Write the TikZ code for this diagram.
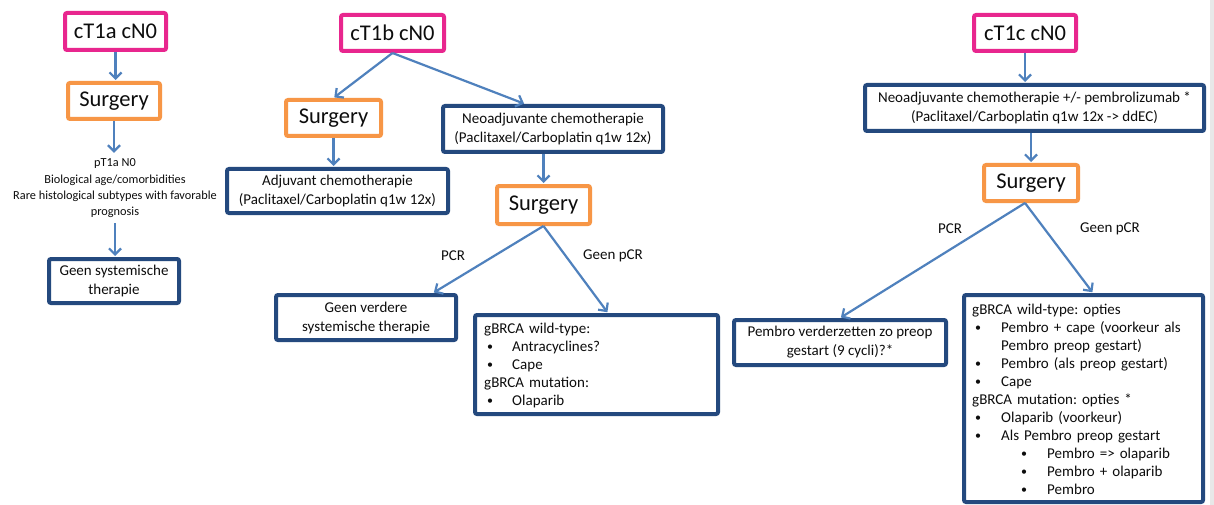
\documentclass[tikz,border=0pt]{standalone}
\usepackage{fontspec}
\setmainfont{Carlito}
\usetikzlibrary{arrows.meta,calc}
\definecolor{pinkc}{HTML}{E8268E}
\definecolor{orangec}{HTML}{F79646}
\definecolor{navyc}{HTML}{24497E}
\definecolor{arrowc}{HTML}{4F81BD}
\definecolor{txt}{HTML}{0D0D0D}
\newcommand\smbul{\raisebox{0.6pt}{\fontsize{12}{12}\selectfont\textbullet}}
\newcommand\bulA{\makebox[28pt][l]{\hspace{3pt}\smbul}}
\newcommand\bulB{\makebox[29pt][l]{\hspace{3pt}\smbul}}
\newcommand\bulC{\makebox[75pt][l]{\hspace{49pt}\smbul}}
\frenchspacing
\begin{document}
\begin{tikzpicture}[x=1pt,y=-1pt,
 box/.style={draw,line width=4pt,rounded corners=2pt,fill=white,inner sep=0pt,align=center,text=txt},
 stagebox/.style={box,draw=pinkc,font=\fontsize{22.5}{26}\selectfont},
 surgbox/.style={box,draw=orangec,font=\fontsize{22.5}{26}\selectfont},
 treatbox/.style={box,draw=navyc,font=\fontsize{15}{19}\selectfont},
 listtext/.style={inner sep=0pt,align=left,anchor=north west,text=txt,text width=230pt,font=\fontsize{15}{18}\selectfont\frenchspacing},
 note/.style={inner xsep=0pt,inner ysep=5pt,align=center,text=txt,font=\fontsize{12.3}{16.3}\selectfont},
 lbl/.style={text=txt,font=\fontsize{15}{18}\selectfont,inner sep=0pt},
 flow/.style={draw=arrowc,line width=2.2pt,-{Straight Barb[length=6pt,width=12pt]},shorten >=1pt}
]
\useasboundingbox (0,0) rectangle (1214,505);
\fill[white] (0,0) rectangle (1214,505);
\fill[gray!18] (1209.5,0) rectangle (1214,505);

% column 1
\node[stagebox,minimum width=101pt,minimum height=37pt] (p1) at (115.5,31.5) {cT1a cN0};
\node[surgbox,minimum width=92pt,minimum height=36pt] (s1) at (114,101) {Surgery};
\node[note] (t1) at (115,188.5) {pT1a N0\\Biological age/comorbidities\\Rare histological subtypes with favorable\\prognosis};
\node[treatbox,minimum width=130pt,minimum height=44pt] (g1) at (114,281) {Geen systemische\\therapie};

% column 2
\node[stagebox,minimum width=103pt,minimum height=36pt] (p2) at (392.5,33) {cT1b cN0};
\node[surgbox,minimum width=95pt,minimum height=36pt] (s2) at (333.5,118) {Surgery};
\node[treatbox,minimum width=221pt,minimum height=44pt] (a2) at (337.5,191) {Adjuvant chemotherapie\\(Paclitaxel/Carboplatin q1w 12x)};
\node[treatbox,minimum width=220pt,minimum height=46pt] (n2) at (553,129) {Neoadjuvante chemotherapie\\(Paclitaxel/Carboplatin q1w 12x)};
\node[surgbox,minimum width=93pt,minimum height=38pt] (s3) at (543.5,205) {Surgery};
\node[treatbox,minimum width=180pt,minimum height=45pt] (v2) at (366,317.5) {Geen verdere\\systemische therapie};
\node[treatbox,minimum width=243pt,minimum height=99pt] (b2) at (596.5,364.5) {};
\node[listtext] (b2t) at (484,320) {\rule{0pt}{13pt}gBRCA wild-type:\\
\bulA Antracyclines?\\
\bulA Cape\\
gBRCA mutation:\\
\bulA Olaparib};

% column 3
\node[stagebox,minimum width=102pt,minimum height=36pt] (p3) at (1025,33) {cT1c cN0};
\node[treatbox,minimum width=339pt,minimum height=46pt] (n3) at (1034.5,108) {Neoadjuvante chemotherapie +/- pembrolizumab *\\(Paclitaxel/Carboplatin q1w 12x -> ddEC)};
\node[surgbox,minimum width=94pt,minimum height=36pt] (s4) at (1031,183) {Surgery};
\node[treatbox,minimum width=212pt,minimum height=45pt] (pe) at (840,342.5) {Pembro verderzetten zo preop\\gestart (9 cycli)?*};
\node[treatbox,minimum width=239pt,minimum height=207pt] (b3) at (1083.5,398.5) {};
\node[listtext] (b3t) at (972,301) {\rule{0pt}{13pt}gBRCA wild-type: opties\\
\bulB Pembro + cape (voorkeur als\\
\makebox[29pt]{}Pembro preop gestart)\\
\bulB Pembro (als preop gestart)\\
\bulB Cape\\
gBRCA mutation: opties *\\
\bulB Olaparib (voorkeur)\\
\bulB Als Pembro preop gestart\\
\bulC Pembro => olaparib\\
\bulC Pembro + olaparib\\
\bulC Pembro};

% connectors column 1
\draw[flow] (p1.south) -- (p1.south |- s1.north);
\draw[flow] (s1.south) -- (s1.south |- t1.north);
\draw[flow] (t1.south) -- (t1.south |- g1.north);

% connectors column 2
\coordinate (n2in) at ([xshift=-28pt]n2.north);
\draw[flow] (p2.south) -- (s2.north);
\draw[flow] (p2.south) -- (n2in);
\draw[flow] (s2.south) -- (s2.south |- a2.north);
\draw[flow] (s3.north |- n2.south) -- (s3.north);
\coordinate (v2in) at ([xshift=67pt]v2.north);
\coordinate (b2in) at ([xshift=11.5pt]b2.north);
\draw[flow] (s3.south) -- (v2in);
\draw[flow] (s3.south) -- (b2in);
\node[lbl] (l1) at (453,256) {PCR};
\node[lbl] (l2) at (613,256) {Geen pCR};

% connectors column 3
\draw[flow] (p3.south) -- (p3.south |- n3.north);
\draw[flow] (s4.north |- n3.south) -- (s4.north);
\coordinate (s4out) at ([xshift=-6pt]s4.south);
\coordinate (b3in) at ([xshift=9.5pt]b3.north);
\draw[flow] (s4out) -- (pe.north);
\draw[flow] (s4out) -- (b3in);
\node[lbl] (l3) at (950,229) {PCR};
\node[lbl] (l4) at (1110,229) {Geen pCR};
\end{tikzpicture}
\end{document}
